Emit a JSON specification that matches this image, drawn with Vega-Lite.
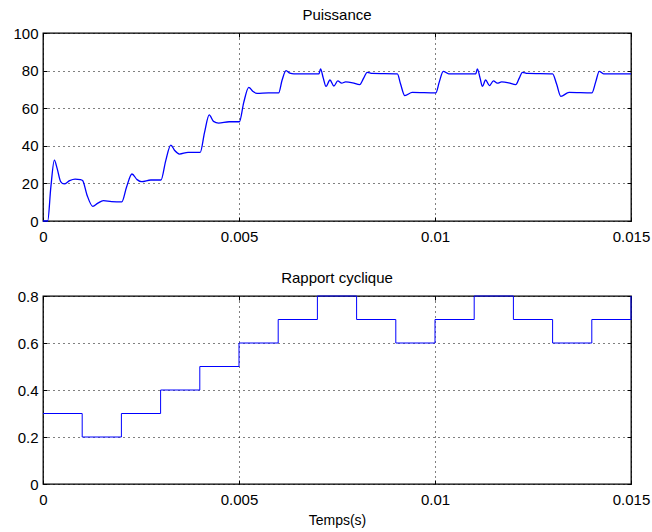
{
  "$schema": "https://vega.github.io/schema/vega-lite/v6.json",
  "background": "white",
  "padding": {"left": 12, "top": 7, "right": 2, "bottom": 2},
  "spacing": 25,
  "datasets": {
    "power": [
      {"t": 0, "p": 0}, {"t": 0.00012, "p": 0}, {"t": 0.0002, "p": 18}, {"t": 0.00029, "p": 32.4},
      {"t": 0.00036, "p": 28}, {"t": 0.00045, "p": 21}, {"t": 0.00054, "p": 19.7}, {"t": 0.00068, "p": 21.5},
      {"t": 0.00082, "p": 22.3}, {"t": 0.00095, "p": 22.0}, {"t": 0.00101, "p": 21.5}, {"t": 0.00112, "p": 14},
      {"t": 0.00127, "p": 7.8}, {"t": 0.0014, "p": 9.5}, {"t": 0.00154, "p": 10.8}, {"t": 0.00175, "p": 10.3},
      {"t": 0.00201, "p": 10.2}, {"t": 0.00213, "p": 18}, {"t": 0.00227, "p": 25}, {"t": 0.0024, "p": 22},
      {"t": 0.00252, "p": 20.9}, {"t": 0.00275, "p": 21.8}, {"t": 0.00301, "p": 21.8}, {"t": 0.00313, "p": 32},
      {"t": 0.00326, "p": 40.4}, {"t": 0.00336, "p": 37.5}, {"t": 0.00348, "p": 35.6}, {"t": 0.0037, "p": 36.5},
      {"t": 0.00401, "p": 36.5}, {"t": 0.00412, "p": 47}, {"t": 0.00424, "p": 56.4}, {"t": 0.00435, "p": 53},
      {"t": 0.00448, "p": 52.1}, {"t": 0.00475, "p": 52.8}, {"t": 0.00501, "p": 52.8}, {"t": 0.00512, "p": 63},
      {"t": 0.00525, "p": 71.1}, {"t": 0.00535, "p": 69}, {"t": 0.00546, "p": 67.9}, {"t": 0.00575, "p": 68.1},
      {"t": 0.00601, "p": 68.1}, {"t": 0.0061, "p": 75}, {"t": 0.0062, "p": 80}, {"t": 0.0063, "p": 78.6},
      {"t": 0.0064, "p": 78.3}, {"t": 0.00704, "p": 78.3}, {"t": 0.00708, "p": 80.9}, {"t": 0.00715, "p": 76},
      {"t": 0.00722, "p": 71.6}, {"t": 0.00732, "p": 75}, {"t": 0.00742, "p": 71.8}, {"t": 0.00752, "p": 74.5},
      {"t": 0.00762, "p": 73.3}, {"t": 0.00772, "p": 74}, {"t": 0.0079, "p": 73.5}, {"t": 0.00808, "p": 72.5},
      {"t": 0.00818, "p": 76}, {"t": 0.00827, "p": 79.1}, {"t": 0.0084, "p": 78.5}, {"t": 0.00904, "p": 78.3},
      {"t": 0.00912, "p": 73}, {"t": 0.00923, "p": 66.7}, {"t": 0.00942, "p": 68.4}, {"t": 0.01002, "p": 68.1},
      {"t": 0.01011, "p": 74}, {"t": 0.01021, "p": 79.6}, {"t": 0.01035, "p": 78.3}, {"t": 0.01104, "p": 78.3},
      {"t": 0.01108, "p": 80.9}, {"t": 0.01115, "p": 76}, {"t": 0.01121, "p": 71.6}, {"t": 0.01129, "p": 75},
      {"t": 0.01139, "p": 72}, {"t": 0.01149, "p": 74.5}, {"t": 0.01159, "p": 73.3}, {"t": 0.0117, "p": 74},
      {"t": 0.01188, "p": 73.5}, {"t": 0.01206, "p": 72.5}, {"t": 0.01215, "p": 76}, {"t": 0.01223, "p": 79.1},
      {"t": 0.01236, "p": 78.5}, {"t": 0.013, "p": 78.3}, {"t": 0.0131, "p": 73}, {"t": 0.01321, "p": 66.3},
      {"t": 0.01342, "p": 68.4}, {"t": 0.014, "p": 68.1}, {"t": 0.0141, "p": 74}, {"t": 0.01419, "p": 79.6},
      {"t": 0.0143, "p": 78.3}, {"t": 0.015, "p": 78.3}
    ],
    "duty": [
      {"t": 0, "d": 0.3}, {"t": 0.001, "d": 0.2}, {"t": 0.002, "d": 0.3}, {"t": 0.003, "d": 0.4},
      {"t": 0.004, "d": 0.5}, {"t": 0.005, "d": 0.6}, {"t": 0.006, "d": 0.7}, {"t": 0.007, "d": 0.8},
      {"t": 0.008, "d": 0.7}, {"t": 0.009, "d": 0.6}, {"t": 0.01, "d": 0.7}, {"t": 0.011, "d": 0.8},
      {"t": 0.012, "d": 0.7}, {"t": 0.013, "d": 0.6}, {"t": 0.014, "d": 0.7}, {"t": 0.015, "d": 0.8}
    ]
  },
  "config": {
    "font": "Liberation Sans",
    "view": {"stroke": "black", "strokeWidth": 1.3},
    "title": {"fontSize": 15, "fontWeight": "normal", "color": "black", "font": "Liberation Sans", "offset": 3},
    "axis": {
      "labelFont": "Liberation Sans", "labelFontSize": 15, "labelColor": "black",
      "titleFont": "Liberation Sans", "titleFontSize": 15, "titleFontWeight": "normal", "titleColor": "black",
      "domain": false, "grid": true, "gridColor": "black", "gridDash": [1, 4], "gridOpacity": 1, "gridWidth": 1,
      "tickColor": "black", "tickSize": -4, "labelPadding": 9
    },
    "axisX": {"labelPadding": 12}
  },
  "vconcat": [
    {
      "width": 588, "height": 188,
      "title": "Puissance",
      "data": {"name": "power"},
      "resolve": {"axis": {"x": "independent", "y": "independent"}},
      "layer": [
        {
          "mark": {"type": "line", "interpolate": "monotone", "color": "#0000ff", "strokeWidth": 1.3},
          "encoding": {
            "x": {"field": "t", "type": "quantitative", "scale": {"domain": [0, 0.015], "nice": false},
                  "axis": {"values": [0, 0.005, 0.01, 0.015], "format": ".3~f", "title": null, "labelFlush": false}},
            "y": {"field": "p", "type": "quantitative", "scale": {"domain": [0, 100], "nice": false},
                  "axis": {"values": [0, 20, 40, 60, 80, 100], "title": null}}
          }
        },
        {
          "mark": {"type": "line", "opacity": 0},
          "encoding": {
            "x": {"field": "t", "type": "quantitative", "scale": {"domain": [0, 0.015], "nice": false},
                  "axis": {"orient": "top", "values": [0, 0.005, 0.01, 0.015], "labels": false, "grid": false, "title": null}},
            "y": {"field": "p", "type": "quantitative", "scale": {"domain": [0, 100], "nice": false},
                  "axis": {"orient": "right", "values": [0, 20, 40, 60, 80, 100], "labels": false, "grid": false, "title": null}}
          }
        }
      ]
    },
    {
      "width": 588, "height": 188,
      "title": "Rapport cyclique",
      "data": {"name": "duty"},
      "resolve": {"axis": {"x": "independent", "y": "independent"}},
      "layer": [
        {
          "mark": {"type": "line", "interpolate": "step-after", "color": "#0000ff", "strokeWidth": 1},
          "encoding": {
            "x": {"field": "t", "type": "quantitative", "scale": {"domain": [0, 0.015], "nice": false},
                  "axis": {"values": [0, 0.005, 0.01, 0.015], "format": ".3~f", "title": "Temps(s)", "labelFlush": false, "titlePadding": 6, "titleFontSize": 14}},
            "y": {"field": "d", "type": "quantitative", "scale": {"domain": [0, 0.8], "nice": false},
                  "axis": {"values": [0, 0.2, 0.4, 0.6, 0.8], "format": ".1~f", "title": null}}
          }
        },
        {
          "mark": {"type": "line", "opacity": 0},
          "encoding": {
            "x": {"field": "t", "type": "quantitative", "scale": {"domain": [0, 0.015], "nice": false},
                  "axis": {"orient": "top", "values": [0, 0.005, 0.01, 0.015], "labels": false, "grid": false, "title": null}},
            "y": {"field": "d", "type": "quantitative", "scale": {"domain": [0, 0.8], "nice": false},
                  "axis": {"orient": "right", "values": [0, 0.2, 0.4, 0.6, 0.8], "labels": false, "grid": false, "title": null}}
          }
        }
      ]
    }
  ]
}
